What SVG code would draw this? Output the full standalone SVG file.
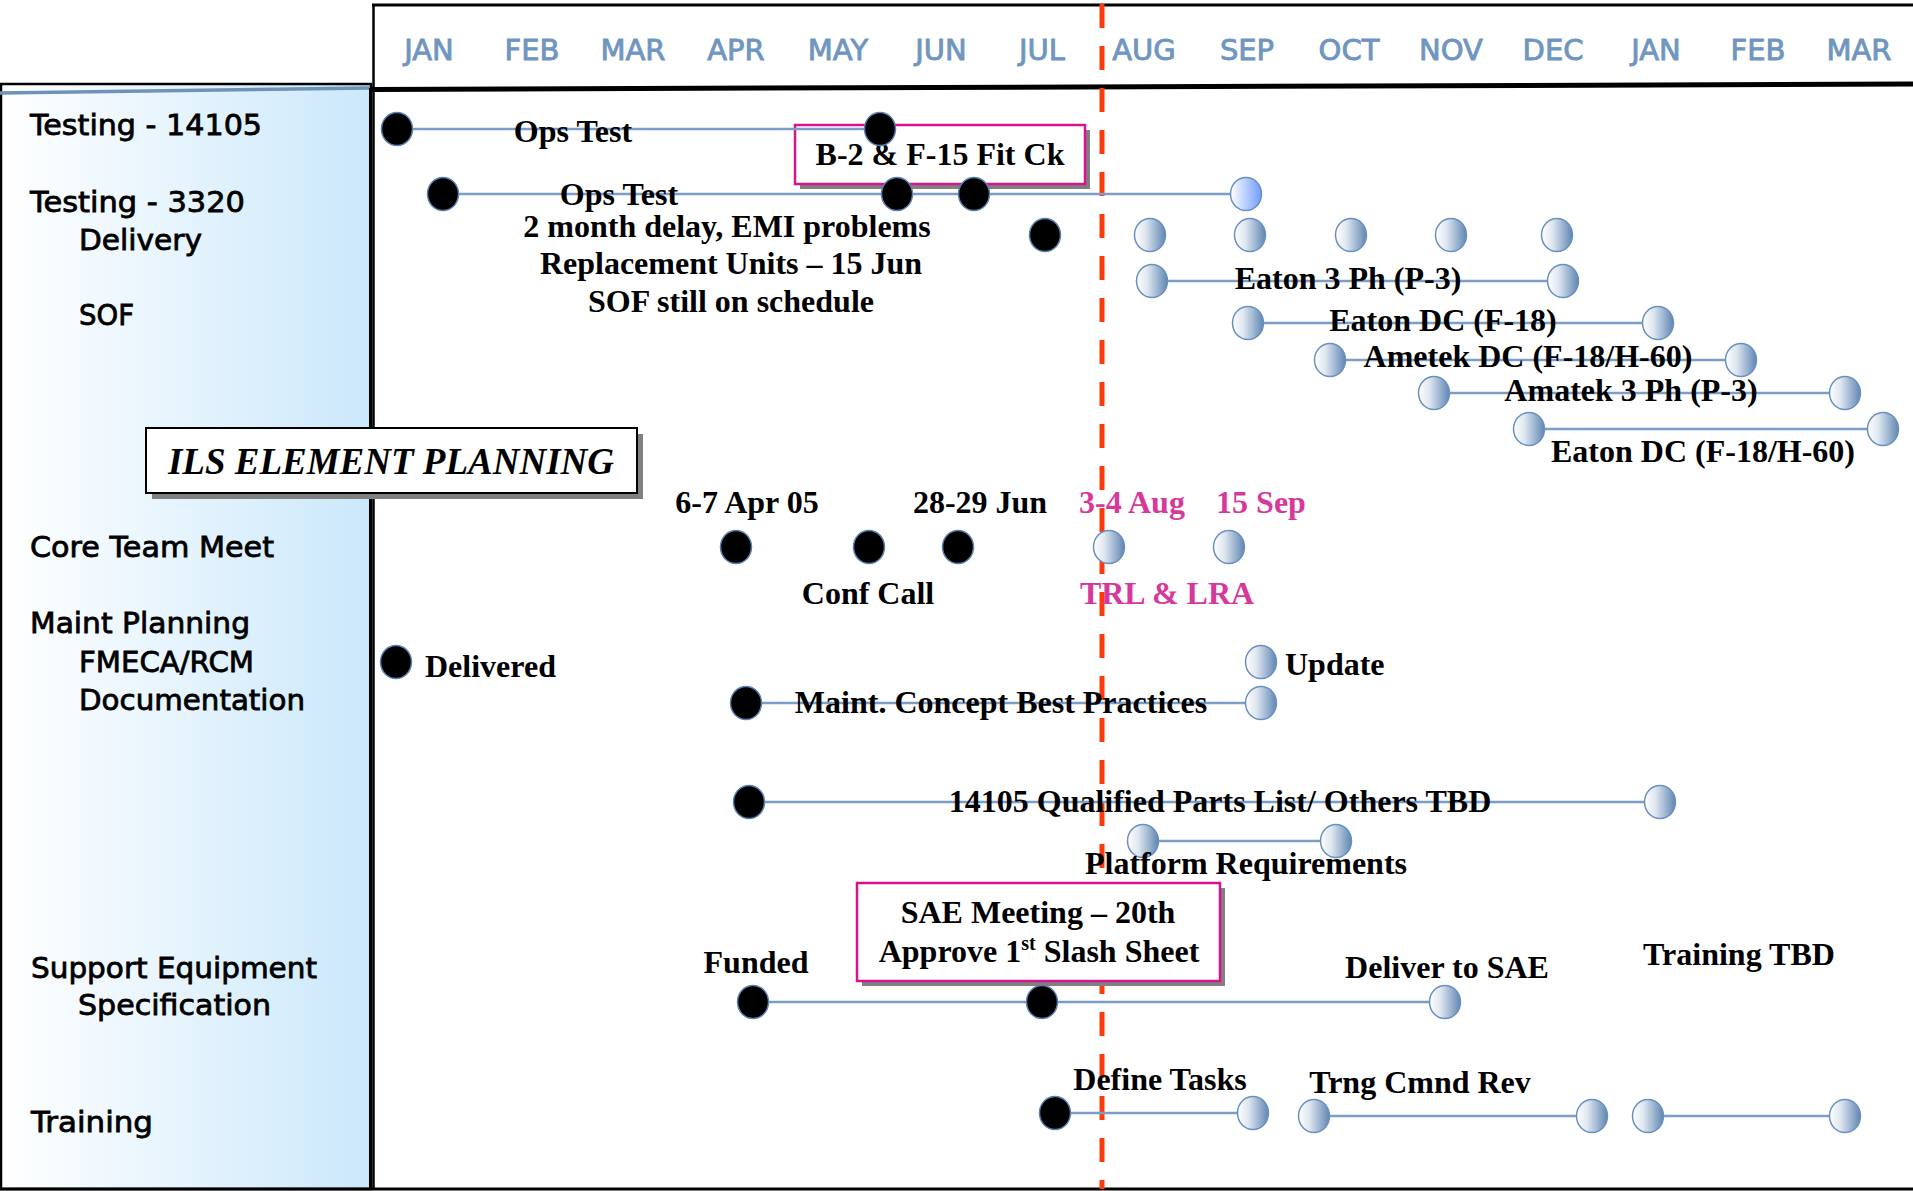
<svg xmlns="http://www.w3.org/2000/svg" width="1913" height="1191" viewBox="0 0 1913 1191">
<defs>
<linearGradient id="panel" x1="0" y1="0" x2="1" y2="0"><stop offset="0" stop-color="#ffffff"/><stop offset="1" stop-color="#cbe8fb"/></linearGradient>
<linearGradient id="gl" x1="0" y1="0" x2="1" y2="0"><stop offset="0" stop-color="#ffffff"/><stop offset="0.35" stop-color="#dfe7f0"/><stop offset="1" stop-color="#5f86b3"/></linearGradient>
<linearGradient id="gb" x1="0" y1="0" x2="1" y2="0"><stop offset="0" stop-color="#ffffff"/><stop offset="1" stop-color="#6f9cff"/></linearGradient>
<style>
.lbl{font-family:"DejaVu Sans","Liberation Sans",sans-serif;font-size:29px;fill:#000;stroke:#000;stroke-width:0.8}
.mon{font-family:"DejaVu Sans","Liberation Sans",sans-serif;font-size:29px;fill:#7096c0;stroke:#7096c0;stroke-width:0.9;text-anchor:middle}
.t{font-family:"Liberation Serif","Times New Roman",serif;font-weight:bold;font-size:32px;fill:#000;text-anchor:middle}
.pk{fill:#d6399c}
.dk{fill:#000;stroke:#5b80b0;stroke-width:1.5}
.lt{fill:url(#gl);stroke:#6a90c0;stroke-width:1.5}
.br{fill:url(#gb);stroke:#6a90c0;stroke-width:1.5}
.cn{stroke:#7b9dc6;stroke-width:2.5;fill:none}
.shadow{fill:#808080}
.mbox{fill:#fff;stroke:#d5148e;stroke-width:2.5}
</style>
</defs>
<rect width="1913" height="1191" fill="#fff"/>
<!-- left panel -->
<rect x="1" y="84" width="370" height="1105" fill="url(#panel)" stroke="#000" stroke-width="2.5"/>
<line x1="0" y1="93" x2="370" y2="88" stroke="#6f92b8" stroke-width="3.5"/>
<line x1="370" y1="88" x2="370" y2="1189" stroke="#000" stroke-width="2"/>
<line x1="373.5" y1="5" x2="373.5" y2="1189" stroke="#000" stroke-width="2.5"/>
<!-- header -->
<line x1="372" y1="5" x2="1913" y2="5" stroke="#000" stroke-width="3"/>
<line x1="372" y1="89.5" x2="1913" y2="84" stroke="#000" stroke-width="5"/>
<line x1="0" y1="1189" x2="1913" y2="1189" stroke="#000" stroke-width="3"/>
<g id="months">
<text class="mon" x="429" y="60">JAN</text>
<text class="mon" x="532" y="60">FEB</text>
<text class="mon" x="633" y="60">MAR</text>
<text class="mon" x="736" y="60">APR</text>
<text class="mon" x="838" y="60">MAY</text>
<text class="mon" x="941" y="60">JUN</text>
<text class="mon" x="1042" y="60">JUL</text>
<text class="mon" x="1144" y="60">AUG</text>
<text class="mon" x="1247" y="60">SEP</text>
<text class="mon" x="1349" y="60">OCT</text>
<text class="mon" x="1451" y="60">NOV</text>
<text class="mon" x="1553" y="60">DEC</text>
<text class="mon" x="1656" y="60">JAN</text>
<text class="mon" x="1758" y="60">FEB</text>
<text class="mon" x="1859" y="60">MAR</text>
</g>
<g id="row-labels">
<text class="lbl" x="30" y="135" textLength="232" lengthAdjust="spacingAndGlyphs">Testing - 14105</text>
<text class="lbl" x="30" y="212" textLength="215" lengthAdjust="spacingAndGlyphs">Testing - 3320</text>
<text class="lbl" x="79" y="250" textLength="123" lengthAdjust="spacingAndGlyphs">Delivery</text>
<text class="lbl" x="79" y="325" textLength="55" lengthAdjust="spacingAndGlyphs">SOF</text>
<text class="lbl" x="30" y="557" textLength="244" lengthAdjust="spacingAndGlyphs">Core Team Meet</text>
<text class="lbl" x="30" y="633" textLength="220" lengthAdjust="spacingAndGlyphs">Maint Planning</text>
<text class="lbl" x="79" y="672" textLength="175" lengthAdjust="spacingAndGlyphs">FMECA/RCM</text>
<text class="lbl" x="79" y="710" textLength="226" lengthAdjust="spacingAndGlyphs">Documentation</text>
<text class="lbl" x="31" y="978" textLength="286" lengthAdjust="spacingAndGlyphs">Support Equipment</text>
<text class="lbl" x="78" y="1015" textLength="193" lengthAdjust="spacingAndGlyphs">Specification</text>
<text class="lbl" x="31" y="1132" textLength="122" lengthAdjust="spacingAndGlyphs">Training</text>
</g>
<!-- today line -->
<line id="today" x1="1102" y1="4" x2="1102" y2="1189" stroke="#ff3a0a" stroke-width="5" stroke-dasharray="24 18"/>
<!-- boxes -->
<g id="title-box">
<rect class="shadow" x="152" y="434" width="491" height="65"/>
<rect x="146" y="428" width="491" height="65" fill="#fff" stroke="#000" stroke-width="2"/>
<text x="391" y="474" font-family="'Liberation Serif','Times New Roman',serif" font-weight="bold" font-style="italic" font-size="37" text-anchor="middle" fill="#000">ILS ELEMENT PLANNING</text>
</g>
<g id="box-fitck">
<rect class="shadow" x="800" y="130" width="290" height="59"/>
<rect class="mbox" x="795" y="125" width="290" height="59"/>
<text class="t" x="940" y="165">B-2 &amp; F-15 Fit Ck</text>
</g>
<g id="box-sae">
<rect class="shadow" x="862" y="888" width="363" height="98"/>
<rect class="mbox" x="857" y="883" width="363" height="98"/>
<text class="t" x="1038" y="923">SAE Meeting – 20th</text>
<text class="t" x="1039" y="962">Approve 1<tspan font-size="20" dy="-12">st</tspan><tspan dy="12"> Slash Sheet</tspan></text>
</g>
<g id="connectors">
<line class="cn" x1="397" y1="129" x2="880" y2="129"/>
<line class="cn" x1="443" y1="194" x2="1246" y2="194"/>
<line class="cn" x1="1152" y1="281" x2="1563" y2="281"/>
<line class="cn" x1="1248" y1="323" x2="1658" y2="323"/>
<line class="cn" x1="1330" y1="360" x2="1741" y2="360"/>
<line class="cn" x1="1434" y1="393" x2="1845" y2="393"/>
<line class="cn" x1="1529" y1="429" x2="1883" y2="429"/>
<line class="cn" x1="746" y1="703" x2="1261" y2="703"/>
<line class="cn" x1="749" y1="802" x2="1660" y2="802"/>
<line class="cn" x1="1143" y1="841" x2="1336" y2="841"/>
<line class="cn" x1="753" y1="1002" x2="1445" y2="1002"/>
<line class="cn" x1="1055" y1="1113" x2="1253" y2="1113"/>
<line class="cn" x1="1314" y1="1116" x2="1592" y2="1116"/>
<line class="cn" x1="1648" y1="1116" x2="1845" y2="1116"/>
</g>
<g id="testing-14105">
<ellipse class="dk" cx="397" cy="129" rx="15.5" ry="16.5"/>
<ellipse class="dk" cx="880" cy="129" rx="15.5" ry="16.5"/>
<text class="t" x="573" y="142">Ops Test</text>
</g>
<g id="testing-3320">
<ellipse class="dk" cx="443" cy="194" rx="15.5" ry="16.5"/>
<ellipse class="dk" cx="897" cy="194" rx="15.5" ry="16.5"/>
<ellipse class="dk" cx="974" cy="194" rx="15.5" ry="16.5"/>
<ellipse class="br" cx="1246" cy="194" rx="15.5" ry="16.5"/>
<text class="t" x="619" y="205">Ops Test</text>
<text class="t" x="727" y="237">2 month delay, EMI problems</text>
<text class="t" x="731" y="274">Replacement Units – 15 Jun</text>
<text class="t" x="731" y="312">SOF still on schedule</text>
</g>
<g id="delivery">
<ellipse class="dk" cx="1045" cy="235" rx="15.5" ry="16.5"/>
<ellipse class="lt" cx="1150" cy="235" rx="15.5" ry="16.5"/>
<ellipse class="lt" cx="1250" cy="235" rx="15.5" ry="16.5"/>
<ellipse class="lt" cx="1351" cy="235" rx="15.5" ry="16.5"/>
<ellipse class="lt" cx="1451" cy="235" rx="15.5" ry="16.5"/>
<ellipse class="lt" cx="1557" cy="235" rx="15.5" ry="16.5"/>
</g>
<g id="sof">
<ellipse class="lt" cx="1152" cy="281" rx="15.5" ry="16.5"/>
<ellipse class="lt" cx="1563" cy="281" rx="15.5" ry="16.5"/>
<text class="t" x="1348" y="289">Eaton 3 Ph (P-3)</text>
<ellipse class="lt" cx="1248" cy="323" rx="15.5" ry="16.5"/>
<ellipse class="lt" cx="1658" cy="323" rx="15.5" ry="16.5"/>
<text class="t" x="1443" y="331">Eaton DC (F-18)</text>
<ellipse class="lt" cx="1330" cy="360" rx="15.5" ry="16.5"/>
<ellipse class="lt" cx="1741" cy="360" rx="15.5" ry="16.5"/>
<text class="t" x="1528" y="367">Ametek DC (F-18/H-60)</text>
<ellipse class="lt" cx="1434" cy="393" rx="15.5" ry="16.5"/>
<ellipse class="lt" cx="1845" cy="393" rx="15.5" ry="16.5"/>
<text class="t" x="1631" y="401">Amatek 3 Ph (P-3)</text>
<ellipse class="lt" cx="1529" cy="429" rx="15.5" ry="16.5"/>
<ellipse class="lt" cx="1883" cy="429" rx="15.5" ry="16.5"/>
<text class="t" x="1703" y="462">Eaton DC (F-18/H-60)</text>
</g>
<g id="core-team">
<text class="t" x="747" y="513">6-7 Apr 05</text>
<text class="t" x="980" y="513">28-29 Jun</text>
<text class="t pk" x="1132" y="513">3-4 Aug</text>
<text class="t pk" x="1261" y="513">15 Sep</text>
<ellipse class="dk" cx="736" cy="547" rx="15.5" ry="16.5"/>
<ellipse class="dk" cx="869" cy="547" rx="15.5" ry="16.5"/>
<ellipse class="dk" cx="958" cy="547" rx="15.5" ry="16.5"/>
<ellipse class="lt" cx="1109" cy="547" rx="15.5" ry="16.5"/>
<ellipse class="lt" cx="1229" cy="547" rx="15.5" ry="16.5"/>
<text class="t" x="868" y="604">Conf Call</text>
<text class="t pk" x="1167" y="604">TRL &amp; LRA</text>
</g>
<g id="maint-planning">
<ellipse class="dk" cx="396" cy="662" rx="15.5" ry="16.5"/>
<text class="t" x="425" y="677" style="text-anchor:start">Delivered</text>
<ellipse class="lt" cx="1261" cy="662" rx="15.5" ry="16.5"/>
<text class="t" x="1285" y="675" style="text-anchor:start">Update</text>
<ellipse class="dk" cx="746" cy="703" rx="15.5" ry="16.5"/>
<ellipse class="lt" cx="1261" cy="703" rx="15.5" ry="16.5"/>
<text class="t" x="1001" y="713">Maint. Concept Best Practices</text>
</g>
<g id="supply-support">
<ellipse class="dk" cx="749" cy="802" rx="15.5" ry="16.5"/>
<ellipse class="lt" cx="1660" cy="802" rx="15.5" ry="16.5"/>
<text class="t" x="1220" y="812">14105 Qualified Parts List/ Others TBD</text>
<ellipse class="lt" cx="1143" cy="841" rx="15.5" ry="16.5"/>
<ellipse class="lt" cx="1336" cy="841" rx="15.5" ry="16.5"/>
<text class="t" x="1246" y="874">Platform Requirements</text>
</g>
<g id="support-equipment">
<text class="t" x="756" y="973">Funded</text>
<ellipse class="dk" cx="753" cy="1002" rx="15.5" ry="16.5"/>
<ellipse class="dk" cx="1042" cy="1002" rx="15.5" ry="16.5"/>
<ellipse class="lt" cx="1445" cy="1002" rx="15.5" ry="16.5"/>
<text class="t" x="1447" y="978">Deliver to SAE</text>
<text class="t" x="1739" y="965">Training TBD</text>
</g>
<g id="training">
<text class="t" x="1160" y="1090">Define Tasks</text>
<ellipse class="dk" cx="1055" cy="1113" rx="15.5" ry="16.5"/>
<ellipse class="lt" cx="1253" cy="1113" rx="15.5" ry="16.5"/>
<text class="t" x="1420" y="1093">Trng Cmnd Rev</text>
<ellipse class="lt" cx="1314" cy="1116" rx="15.5" ry="16.5"/>
<ellipse class="lt" cx="1592" cy="1116" rx="15.5" ry="16.5"/>
<ellipse class="lt" cx="1648" cy="1116" rx="15.5" ry="16.5"/>
<ellipse class="lt" cx="1845" cy="1116" rx="15.5" ry="16.5"/>
</g>
</svg>
